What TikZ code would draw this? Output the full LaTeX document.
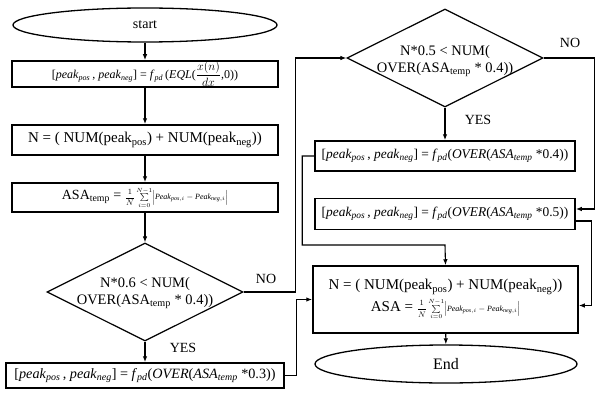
\documentclass[tikz,border=0pt]{standalone}
\usepackage{amsmath}
\usepackage{fontspec}
\setmainfont{Liberation Serif}
\usetikzlibrary{arrows.meta,shapes.geometric}
\newcommand{\mysb}[1]{\textsubscript{#1}}
\newcommand{\pkpair}{[\textit{peak}\mysb{\textit{pos}}\,,\ \textit{peak}\mysb{\textit{neg}}]}
\newcommand{\asasum}[1]{{\fontsize{#1}{#1}\selectfont$\dfrac{1}{N}\sum\limits_{i=0}^{N-1}\Bigl|\mathit{Peak}_{\mathit{pos},i}-\mathit{Peak}_{\mathit{neg},i}\Bigr|$}}
\begin{document}
\begin{tikzpicture}[x=1pt,y=-1pt,
  procbox/.style={draw,line width=1.5pt,rectangle,inner sep=0pt,align=center},
  term/.style={draw,line width=1.3pt,ellipse,inner sep=0pt,font=\fontsize{14}{16}\selectfont},
  decis/.style={draw,line width=1.2pt,diamond,inner sep=0pt,minimum width=196pt,minimum height=98pt},
  arr/.style={line width=1.1pt,-{Latex[length=6pt,width=4.5pt]}},
  lbl/.style={font=\fontsize{14}{16}\selectfont,inner sep=0pt},
  dtext/.style={font=\fontsize{14.5}{17}\selectfont,align=center,inner sep=0pt}
]
\useasboundingbox (0,0) rectangle (596,401);

% left column
\node[term,minimum width=264pt,minimum height=34pt] (start) at (145,25) {start};
\node[procbox,minimum width=266pt,minimum height=26pt,font=\fontsize{12}{14}\selectfont] (b1) at (145,74)
  {\pkpair\ = \textit{f}\mysb{\textit{pd}}\,(\textit{EQL}($\dfrac{x(n)}{dx}$,0))};
\node[procbox,minimum width=266pt,minimum height=30pt,font=\fontsize{15}{17}\selectfont] (b2) at (145,140)
  {N = ( NUM(peak\mysb{pos}) + NUM(peak\mysb{neg}))};
\node[procbox,minimum width=266pt,minimum height=29pt,font=\fontsize{14}{16}\selectfont] (b3) at (145,197.5)
  {ASA\mysb{temp} = \asasum{8}};
\node[decis] (d1) at (145,292) {};
\node[dtext] (d1t) at (145,293) {N*0.6 < NUM(\\OVER(ASA\mysb{temp} * 0.4))};
\node[procbox,minimum width=278pt,minimum height=25pt,font=\fontsize{14.2}{16}\selectfont] (b4) at (145,375.5)
  {\pkpair\ = \textit{f}\mysb{\textit{pd}}(\textit{OVER}(\textit{ASA}\mysb{\textit{temp}} *0.3))};

% right column
\node[decis] (d2) at (445,58) {};
\node[dtext] (d2t) at (445,61) {N*0.5 < NUM(\\OVER(ASA\mysb{temp} * 0.4))};
\node[procbox,minimum width=260pt,minimum height=30pt,font=\fontsize{13.4}{16}\selectfont] (b5) at (445,156)
  {\pkpair\ = \textit{f}\mysb{\textit{pd}}(\textit{OVER}(\textit{ASA}\mysb{\textit{temp}} *0.4))};
\node[procbox,minimum width=260pt,minimum height=31pt,font=\fontsize{13.4}{16}\selectfont] (b6) at (445,214)
  {\pkpair\ = \textit{f}\mysb{\textit{pd}}(\textit{OVER}(\textit{ASA}\mysb{\textit{temp}} *0.5))};
\node[procbox,minimum width=265pt,minimum height=67pt,font=\fontsize{15}{17}\selectfont] (fb) at (445.5,299.5)
  {N = ( NUM(peak\mysb{pos}) + NUM(peak\mysb{neg}))\\[3pt] ASA = \asasum{8}};
\node[term,minimum width=262pt,minimum height=38pt,font=\fontsize{16}{18}\selectfont] (end) at (446,364) {End};

% labels
\node[lbl] (yes1) at (183,348) {YES};
\node[lbl] (no1) at (266,279) {NO};
\node[lbl] (yes2) at (478,120) {YES};
\node[lbl] (no2) at (570,43) {NO};

% connectors
\draw[arr] (start) -- (b1);
\draw[arr] (b1) -- (b2);
\draw[arr] (b2) -- (b3);
\draw[arr] (b3) -- (d1);
\draw[arr] (d1) -- (b4);
\draw[arr] (d1.east) -- ++(52,0) |- (d2.west);
\draw[arr] (b4.east) -- ++(12,0) |- (fb.west);
\draw[arr] (d2) -- (b5);
\draw[arr] (d2.east) -- ++(51,0) |- ([yshift=5pt]b6.east);
\draw[arr] ([yshift=-7pt]b6.east) -- ++(16,0) |- ([yshift=-6pt]fb.east);
\coordinate (m) at (445,245);
\draw[arr] (b5.west) -- ++(-12,0) |- (m) -- (fb.north);
\draw[arr] (fb) -- (end);
\end{tikzpicture}
\end{document}
